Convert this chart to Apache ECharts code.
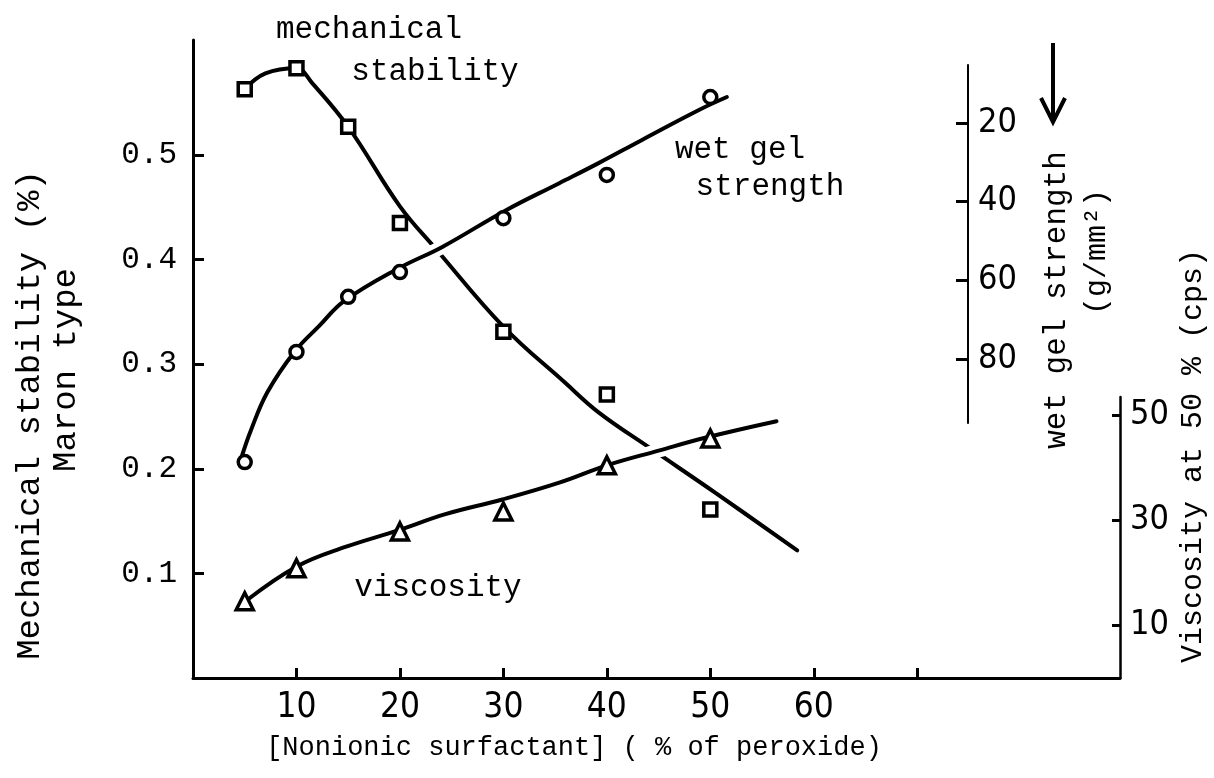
<!DOCTYPE html>
<html>
<head>
<meta charset="utf-8">
<script src="https://cdn.jsdelivr.net/npm/echarts@6/dist/echarts.min.js"></script>
<style>
html, body { margin: 0; padding: 0; background: #fff; }
#chart { width: 1214px; height: 778px; }
</style>
</head>
<body>
<div id="chart"></div>
<script>
// measured points, x = nonionic surfactant (% of peroxide)
const surfactant = [5, 10, 15, 20, 30, 40, 50];
const mechStability = [0.563, 0.583, 0.527, 0.435, 0.331, 0.271, 0.161];   // %
const wetGel = [106.2, 78.2, 64.2, 57.9, 44.2, 33.2, 13.4];                 // g/mm2
const viscX = [5, 10, 20, 30, 40, 50];
const viscosity = [14.6, 20.9, 27.9, 31.7, 40.5, 45.6];                      // cps

// the hand drawn curves
const mechCurveX = [5, 7, 10, 11.5, 15, 20, 23.5, 30, 36, 39.2, 44.3, 50.5, 58.4];
const mechCurveY = [0.563, 0.578, 0.583, 0.569, 0.527, 0.451, 0.41, 0.336, 0.282, 0.254, 0.219, 0.177, 0.122];
const gelCurveX = [4.7, 5.6, 7.2, 9.8, 12.2, 14.6, 19.9, 24.1, 30.3, 35.4, 39.2, 43.4, 48.9, 51.6];
const gelCurveY = [104.9, 98.1, 88.4, 78.2, 71.6, 65.3, 56.9, 51.5, 42.1, 35.3, 30.2, 24.3, 16.7, 13.4];
const viscCurveX = [5.2, 10, 14.8, 19.8, 24.4, 29.9, 35.4, 40, 45, 49.6, 56.4];
const viscCurveY = [14.8, 21.2, 25.0, 28.1, 31.2, 34.0, 37.2, 40.5, 43.3, 45.8, 48.9];

// ticks
const xTicks = [10, 20, 30, 40, 50, 60, 70];
const xLabels = [10, 20, 30, 40, 50, 60];
const mechTicks = [0.1, 0.2, 0.3, 0.4, 0.5];
const gelTicks = [20, 40, 60, 80];
const viscTicks = [10, 30, 50];

const MONO = '"Liberation Mono", "DejaVu Sans Mono", monospace';
const NARROW = '"Liberation Sans Narrow", "DejaVu Sans Condensed", sans-serif';

function zip(xs, ys) {
    return xs.map((x, i) => [x, ys[i]]);
}

function curve(xs, ys, yIdx, color, width, z) {
    return {
        type: 'line',
        xAxisIndex: 0,
        yAxisIndex: yIdx,
        data: zip(xs, ys),
        smooth: 0.4,
        showSymbol: false,
        silent: true,
        z: z,
        lineStyle: { color: color, width: width, cap: 'round' }
    };
}

function marks(xs, ys, yIdx, symbol, size) {
    return {
        type: 'scatter',
        xAxisIndex: 0,
        yAxisIndex: yIdx,
        data: zip(xs, ys),
        symbol: symbol,
        symbolSize: size,
        z: 6,
        itemStyle: { color: '#fff', borderColor: '#000', borderWidth: 3.5, opacity: 1 }
    };
}

function txt(x, y, s, size, rot) {
    return {
        type: 'text', x: x, y: y, rotation: rot || 0,
        style: {
            text: s, font: size + 'px ' + MONO, fill: '#000',
            textAlign: 'center', textVerticalAlign: 'middle',
            align: 'center', verticalAlign: 'middle'
        }
    };
}

const chart = echarts.init(document.getElementById('chart'));

let option = {
    animation: false,
    backgroundColor: '#fff',
    grid: [
        { left: 193, top: 40, width: 927, height: 638 },   // main plot
        { left: 968, top: 65, width: 1, height: 358 },      // short wet gel scale
        { left: 1120, top: 397, width: 1, height: 281 }     // short viscosity scale
    ],
    xAxis: [
        {
            gridIndex: 0, type: 'value', min: 0, max: 89.6,
            axisLine: { lineStyle: { color: '#000', width: 3 } },
            axisTick: { inside: true, length: 10, customValues: xTicks, lineStyle: { color: '#000', width: 3 } },
            axisLabel: { customValues: xLabels, color: '#000', fontFamily: NARROW, fontSize: 35, margin: 12 },
            splitLine: { show: false }
        },
        { gridIndex: 1, type: 'value', min: 0, max: 1, show: false },
        { gridIndex: 2, type: 'value', min: 0, max: 1, show: false }
    ],
    yAxis: [
        {
            gridIndex: 0, type: 'value', min: 0, max: 0.61,
            axisLine: { show: true, lineStyle: { color: '#000', width: 3 } },
            axisTick: { show: true, inside: true, length: 11, customValues: mechTicks, lineStyle: { color: '#000', width: 3 } },
            axisLabel: {
                customValues: mechTicks, color: '#000', fontFamily: MONO, fontSize: 31, margin: 16,
                formatter: v => v.toFixed(1)
            },
            splitLine: { show: false }
        },
        // data scales for the two right hand quantities, kept invisible
        { gridIndex: 0, type: 'value', inverse: true, min: -1.1, max: 161.1, show: false },
        { gridIndex: 0, type: 'value', min: 0, max: 121.5, show: false },
        // the drawn scales
        {
            gridIndex: 1, type: 'value', position: 'left', inverse: true, min: 5.25, max: 96.3,
            axisLine: { show: true, lineStyle: { color: '#000', width: 2 } },
            axisTick: { show: true, length: 12, customValues: gelTicks, lineStyle: { color: '#000', width: 3 } },
            axisLabel: { inside: true, customValues: gelTicks, color: '#000', fontFamily: NARROW, fontSize: 34, margin: 10 },
            splitLine: { show: false }
        },
        {
            gridIndex: 2, type: 'value', position: 'left', min: 0, max: 53.5,
            axisLine: { show: true, lineStyle: { color: '#000', width: 2.5 } },
            axisTick: { show: true, length: 8, customValues: viscTicks, lineStyle: { color: '#000', width: 3 } },
            axisLabel: { inside: true, customValues: viscTicks, color: '#000', fontFamily: NARROW, fontSize: 34, margin: 10 },
            splitLine: { show: false }
        }
    ],
    series: [
        curve(mechCurveX, mechCurveY, 0, '#000', 4, 2),
        // white halos give the breaks where the stability curve passes under the others
        curve(gelCurveX, gelCurveY, 1, '#fff', 14, 3),
        curve(viscCurveX, viscCurveY, 2, '#fff', 14, 3),
        curve(gelCurveX, gelCurveY, 1, '#000', 4, 4),
        curve(viscCurveX, viscCurveY, 2, '#000', 4, 4),
        marks(surfactant, mechStability, 0, 'rect', 13),
        marks(surfactant, wetGel, 1, 'circle', 13),
        marks(viscX, viscosity, 2, 'triangle', 17)
    ],
    graphic: [
        txt(369, 30, 'mechanical', 31),
        txt(435, 72, 'stability', 31),
        txt(740, 150, 'wet gel', 31),
        txt(770, 187, 'strength', 31),
        txt(438, 588, 'viscosity', 31),
        txt(574, 748, '[Nonionic surfactant] ( % of peroxide)', 27),
        txt(30, 415, 'Mechanical stability (%)', 34, Math.PI / 2),
        txt(66, 370, 'Maron type', 34, Math.PI / 2),
        txt(1057, 300, 'wet gel strength', 31, Math.PI / 2),
        txt(1097, 252, '(g/mm²)', 30, Math.PI / 2),
        txt(1193, 456, 'Viscosity at 50 % (cps)', 30, Math.PI / 2),
        {
            type: 'polyline', shape: { points: [[1053, 43], [1053, 120]] },
            style: { stroke: '#000', lineWidth: 4, fill: null }
        },
        {
            type: 'polyline', shape: { points: [[1041, 98], [1053, 122], [1065, 98]] },
            style: { stroke: '#000', lineWidth: 4, fill: null }
        }
    ]
};

chart.setOption(option);
</script>
</body>
</html>
